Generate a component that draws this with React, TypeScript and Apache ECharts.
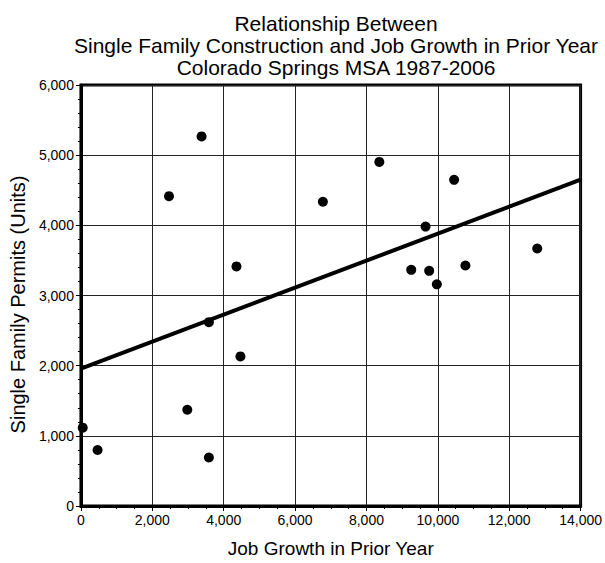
import React, { useEffect, useRef } from "react";
import * as echarts from "echarts";

const jobGrowth = [50, 466, 2980, 3585, 3585, 4469, 4358, 2467, 3380, 6779, 8361, 10456, 9656, 9255, 9758, 9972, 10773, 12785];
const permits = [1116, 798, 1372, 691, 2620, 2132, 3414, 4416, 5267, 4336, 4904, 4648, 3982, 3366, 3352, 3159, 3428, 3670];
const trendX = [0, 14000];
const trendY = [1957, 4652];

const titleLines = [
  "Relationship Between",
  "Single Family Construction and Job Growth in Prior Year",
  "Colorado Springs MSA 1987-2006",
];

const FONT = "Liberation Sans, Arial, sans-serif";
const fmt = (v: number) => v.toLocaleString("en-US");

export default function App() {
  const ref = useRef<HTMLDivElement>(null);
  useEffect(() => {
    if (!ref.current) return;
    const chart = echarts.init(ref.current, null, { renderer: "svg" });
    chart.setOption({
      animation: false,
      backgroundColor: "#fff",
      title: {
        text: titleLines.join("\n"),
        left: 331,
        top: 7,
        textAlign: "center",
        textStyle: { fontFamily: FONT, fontSize: 21, fontWeight: "normal", color: "#000", lineHeight: 22 },
      },
      grid: { left: 80, right: 24, top: 85, bottom: 54, show: true, borderColor: "#000", borderWidth: 3, backgroundColor: "transparent" },
      xAxis: {
        type: "value",
        min: 0,
        max: 14000,
        interval: 2000,
        name: "Job Growth in Prior Year",
        nameLocation: "middle",
        nameGap: 33,
        nameTextStyle: { fontFamily: FONT, fontSize: 19, color: "#000" },
        axisLine: { show: true, lineStyle: { color: "#000", width: 3 } },
        axisTick: { show: true, length: 5, lineStyle: { color: "#000", width: 1 } },
        minorTick: { show: true, splitNumber: 4, length: 3, lineStyle: { color: "#000", width: 1 } },
        splitLine: { show: true, lineStyle: { color: "#222", width: 1 } },
        axisLabel: { fontFamily: FONT, fontSize: 14, color: "#000", margin: 7, formatter: fmt },
      },
      yAxis: {
        type: "value",
        min: 0,
        max: 6000,
        interval: 1000,
        name: "Single Family Permits (Units)",
        nameLocation: "middle",
        nameGap: 52,
        nameTextStyle: { fontFamily: FONT, fontSize: 20, color: "#000", padding: [0, 18, 0, 0] },
        axisLine: { show: true, lineStyle: { color: "#000", width: 3 } },
        axisTick: { show: true, length: 5, lineStyle: { color: "#000", width: 1 } },
        minorTick: { show: true, splitNumber: 5, length: 3, lineStyle: { color: "#000", width: 1 } },
        splitLine: { show: true, lineStyle: { color: "#222", width: 1 } },
        axisLabel: { fontFamily: FONT, fontSize: 14, color: "#000", margin: 7, formatter: fmt },
      },
      series: [
        {
          type: "line",
          data: trendX.map((x, i) => [x, trendY[i]]),
          showSymbol: false,
          lineStyle: { color: "#000", width: 4 },
          z: 3,
        },
        {
          type: "scatter",
          data: jobGrowth.map((x, i) => [x, permits[i]]),
          symbol: "circle",
          symbolSize: 10,
          itemStyle: { color: "#000", opacity: 1 },
          z: 4,
        },
      ],
    });
    return () => chart.dispose();
  }, []);
  return <div ref={ref} style={{ position: "fixed", left: 0, top: 0, width: 605, height: 563 }} />;
}
